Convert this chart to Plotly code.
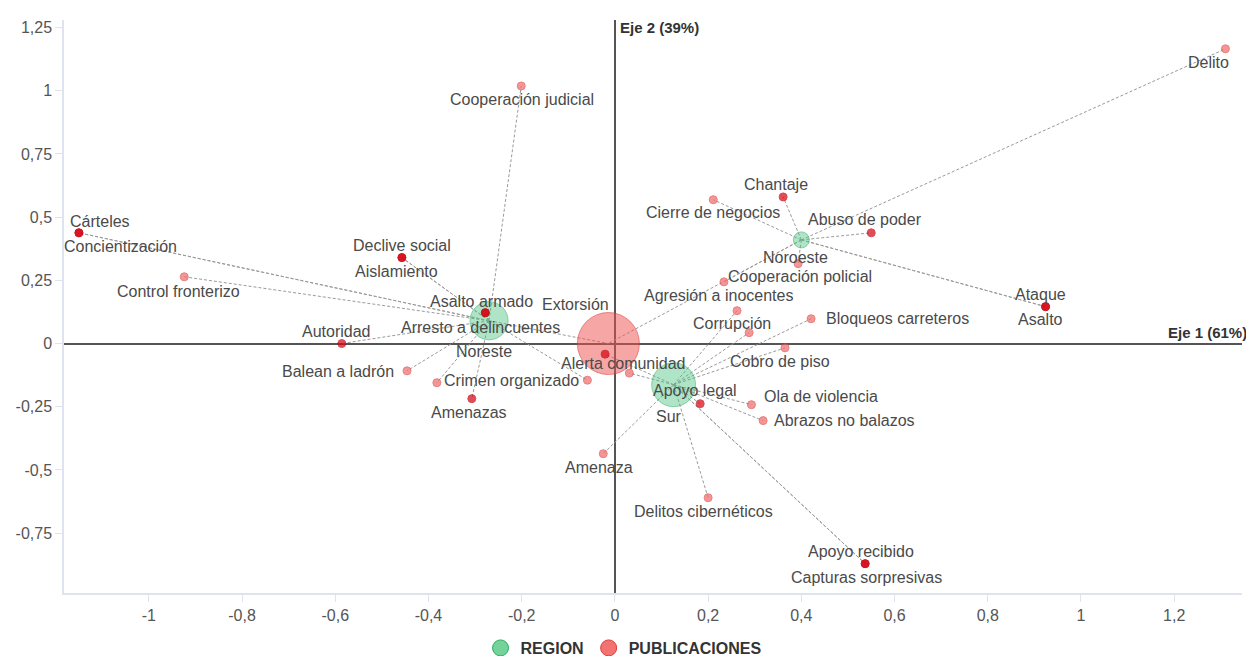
import plotly.graph_objects as go

# ---------------- DATA ----------------
region_nombres = ["Noreste", "Noroeste", "Sur"]
region_x = [-0.270, 0.400, 0.126]
region_y = [0.090, 0.410, -0.163]
region_peso = [22.6, 4.0, 30.0]

pub_nombres = [
    "Extorsión", "Delito", "Cooperación judicial", "Cárteles", "Concientización",
    "Control fronterizo", "Declive social", "Aislamiento", "Asalto armado",
    "Arresto a delincuentes", "Autoridad", "Balean a ladrón", "Crimen organizado",
    "Amenazas", "", "Alerta comunidad", "", "Amenaza", "Chantaje",
    "Cierre de negocios", "Abuso de poder", "", "Cooperación policial",
    "Agresión a inocentes", "Corrupción", "Bloqueos carreteros", "Ataque", "Asalto",
    "Cobro de piso", "Apoyo legal", "Ola de violencia", "Abrazos no balazos",
    "Delitos cibernéticos", "Apoyo recibido", "Capturas sorpresivas",
]
pub_x = [
    -0.014, 1.310, -0.201, -1.150, -1.150,
    -0.924, -0.457, -0.457, -0.278,
    -0.278, -0.586, -0.446, -0.382,
    -0.307, -0.059, -0.021, 0.031, -0.025, 0.361,
    0.211, 0.550, 0.393, 0.234,
    0.262, 0.288, 0.421, 0.924, 0.924,
    0.365, 0.183, 0.293, 0.318,
    0.200, 0.537, 0.537,
]
pub_y = [
    0.000, 1.166, 1.019, 0.438, 0.438,
    0.264, 0.340, 0.340, 0.122,
    0.122, 0.000, -0.108, -0.155,
    -0.218, -0.145, -0.042, -0.117, -0.436, 0.580,
    0.569, 0.438, 0.316, 0.244,
    0.130, 0.043, 0.098, 0.146, 0.146,
    -0.017, -0.238, -0.242, -0.305,
    -0.610, -0.871, -0.871,
]
pub_peso = [60.0] + [1.0] * 34
pub_enlace = [
    ["Noreste", "Noroeste"], ["Noroeste"], ["Noreste"], ["Noreste"], ["Noreste"],
    ["Noreste"], ["Noreste"], ["Noreste"], ["Noreste"],
    ["Noreste"], ["Noreste"], ["Noreste"], ["Noreste"],
    ["Noreste"], ["Noreste"], ["Sur"], ["Sur"], ["Sur"], ["Noroeste"],
    ["Noroeste"], ["Noroeste"], ["Noroeste"], ["Noroeste"],
    ["Sur"], ["Sur"], ["Sur"], ["Noroeste"], ["Noroeste"],
    ["Sur"], ["Sur"], ["Sur"], ["Sur"],
    ["Sur"], ["Sur"], ["Sur"],
]

x_tick_vals = [-1, -0.8, -0.6, -0.4, -0.2, 0, 0.2, 0.4, 0.6, 0.8, 1, 1.2]
x_tick_text = ["-1", "-0,8", "-0,6", "-0,4", "-0,2", "0", "0,2", "0,4", "0,6", "0,8", "1", "1,2"]
y_tick_vals = [-0.75, -0.5, -0.25, 0, 0.25, 0.5, 0.75, 1, 1.25]
y_tick_text = ["-0,75", "-0,5", "-0,25", "0", "0,25", "0,5", "0,75", "1", "1,25"]

eje1_titulo = "Eje 1 (61%)"
eje2_titulo = "Eje 2 (39%)"

# ---------------- STYLE ----------------
FONT = "Liberation Sans, Arial, sans-serif"
LABEL_COLOR = "#4a4a4a"
oscuros = {"Cárteles", "Concientización", "Declive social", "Aislamiento", "Asalto armado",
           "Arresto a delincuentes", "Autoridad", "Amenazas", "Chantaje", "Abuso de poder",
           "Ataque", "Asalto", "Apoyo legal", "Apoyo recibido", "Capturas sorpresivas",
           "Alerta comunidad"}
# label placement: anchor, dx (px right), dy (px down)
etiqueta_pos = {
    "Extorsión": ("center", -33, -39),
    "Delito": ("center", -17, 14),
    "Cooperación judicial": ("center", 1, 14),
    "Cárteles": ("center", 21, -11),
    "Concientización": ("center", 42, 14),
    "Control fronterizo": ("center", -6, 15),
    "Declive social": ("center", 0, -12),
    "Aislamiento": ("center", -5, 14),
    "Asalto armado": ("center", -4, -11),
    "Arresto a delincuentes": ("center", -5, 15),
    "Autoridad": ("center", -5, -12),
    "Balean a ladrón": ("right", -11, 1),
    "Crimen organizado": ("left", 5, -2),
    "Amenazas": ("center", -3, 14),
    "Alerta comunidad": ("center", 18, 9),
    "Amenaza": ("center", -4, 14),
    "Chantaje": ("center", -7, -12),
    "Cierre de negocios": ("center", 0, 13),
    "Abuso de poder": ("center", -6, -13),
    "Cooperación policial": ("left", 2, -5),
    "Agresión a inocentes": ("center", -19, -15),
    "Corrupción": ("center", -17, -9),
    "Bloqueos carreteros": ("left", 13, 0),
    "Ataque": ("center", -5, -12),
    "Asalto": ("center", -5, 13),
    "Cobro de piso": ("center", -5, 14),
    "Apoyo legal": ("center", -5, -13),
    "Ola de violencia": ("left", 11, -8),
    "Abrazos no balazos": ("left", 9, 0),
    "Delitos cibernéticos": ("center", -5, 14),
    "Apoyo recibido": ("center", -4, -12),
    "Capturas sorpresivas": ("center", 1, 14),
}
region_etiqueta_pos = {
    "Noreste": ("center", -5, 31),
    "Noroeste": ("center", -6, 18),
    "Sur": ("center", -5, 32),
}

fig = go.Figure()

# dashed link lines
lx, ly = [], []
reg_idx = {n: i for i, n in enumerate(region_nombres)}
for i in range(len(pub_nombres)):
    for r in pub_enlace[i]:
        j = reg_idx[r]
        lx += [region_x[j], pub_x[i], None]
        ly += [region_y[j], pub_y[i], None]
fig.add_trace(go.Scatter(x=lx, y=ly, mode="lines", hoverinfo="skip", showlegend=False,
                         line=dict(color="#9a9a9a", width=1, dash="3px,2px")))

SIZEREF = 1 / 32.0
# regions
fig.add_trace(go.Scatter(
    x=region_x, y=region_y, mode="markers", showlegend=False, text=region_nombres,
    marker=dict(size=region_peso, sizemode="area", sizeref=SIZEREF,
                color="rgba(72,196,128,0.62)", line=dict(color="rgba(60,175,110,0.85)", width=1))))

# publicaciones
fill, edge = [], []
for n, w in zip(pub_nombres, pub_peso):
    if w > 5:
        fill.append("rgba(240,80,80,0.72)"); edge.append("rgba(220,60,60,0.9)")
    elif n in oscuros:
        fill.append("#d8000f"); edge.append("#c2000c")
    else:
        fill.append("#f06b6b"); edge.append("#de4a4a")
fig.add_trace(go.Scatter(
    x=pub_x, y=pub_y, mode="markers", showlegend=False, text=pub_nombres,
    marker=dict(size=pub_peso, sizemode="area", sizeref=SIZEREF,
                color=fill, line=dict(color=edge, width=1))))

# legend entries
fig.add_trace(go.Scatter(x=[None], y=[None], mode="markers", name="REGION",
                         marker=dict(size=16, color="rgba(80,200,130,0.8)",
                                     line=dict(color="rgba(50,170,100,1)", width=1))))
fig.add_trace(go.Scatter(x=[None], y=[None], mode="markers", name="PUBLICACIONES",
                         marker=dict(size=16, color="rgba(242,100,100,0.9)",
                                     line=dict(color="rgba(220,60,60,1)", width=1))))

LABEL_SIZE = 16
ann = []
for n, x, y in zip(pub_nombres, pub_x, pub_y):
    if not n:
        continue
    a, dx, dy = etiqueta_pos[n]
    ann.append(dict(x=x, y=y, xref="x", yref="y", text=n, showarrow=False,
                    xanchor=a, yanchor="middle", xshift=dx, yshift=-dy,
                    font=dict(family=FONT, size=LABEL_SIZE, color=LABEL_COLOR)))
for n, x, y in zip(region_nombres, region_x, region_y):
    a, dx, dy = region_etiqueta_pos[n]
    ann.append(dict(x=x, y=y, xref="x", yref="y", text=n, showarrow=False,
                    xanchor=a, yanchor="middle", xshift=dx, yshift=-dy,
                    font=dict(family=FONT, size=LABEL_SIZE, color=LABEL_COLOR)))
ann.append(dict(x=0, y=1, xref="x", yref="paper", text="<b>" + eje2_titulo + "</b>",
                showarrow=False, xanchor="left", yanchor="top", xshift=3, yshift=3,
                font=dict(family=FONT, size=15, color="#333")))
ann.append(dict(x=1, y=0, xref="paper", yref="y", text="<b>" + eje1_titulo + "</b>",
                showarrow=False, xanchor="right", yanchor="bottom", xshift=7, yshift=1,
                font=dict(family=FONT, size=15, color="#333")))

axis_common = dict(showgrid=False, zeroline=True, zerolinecolor="#555555", zerolinewidth=1.5,
                   showline=True, linecolor="#dfe2ef", linewidth=1.5,
                   ticks="outside", tickcolor="#dfe2ef", ticklen=7, tickwidth=1,
                   automargin=False,
                   tickfont=dict(family=FONT, size=16, color="#555555"))

# the page body adds an 8px margin; size the figure to fill the rest of the window
fig.update_layout(
    width=1246, height=648,
    margin=dict(l=56, r=12, t=12, b=63, autoexpand=False),
    paper_bgcolor="white", plot_bgcolor="white",
    font=dict(family=FONT),
    xaxis=dict(range=[-1.182, 1.3455], tickvals=x_tick_vals, ticktext=x_tick_text, **axis_common),
    yaxis=dict(range=[-0.987, 1.280], tickvals=y_tick_vals, ticktext=y_tick_text, **axis_common),
    annotations=ann,
    showlegend=True,
    legend=dict(orientation="h", xref="container", yref="paper", x=0.494, y=-0.096,
                xanchor="center", yanchor="middle",
                font=dict(family=FONT, size=16, color="#333333", weight="bold"),
                itemsizing="trace"),
)

fig.write_html("out.html")
